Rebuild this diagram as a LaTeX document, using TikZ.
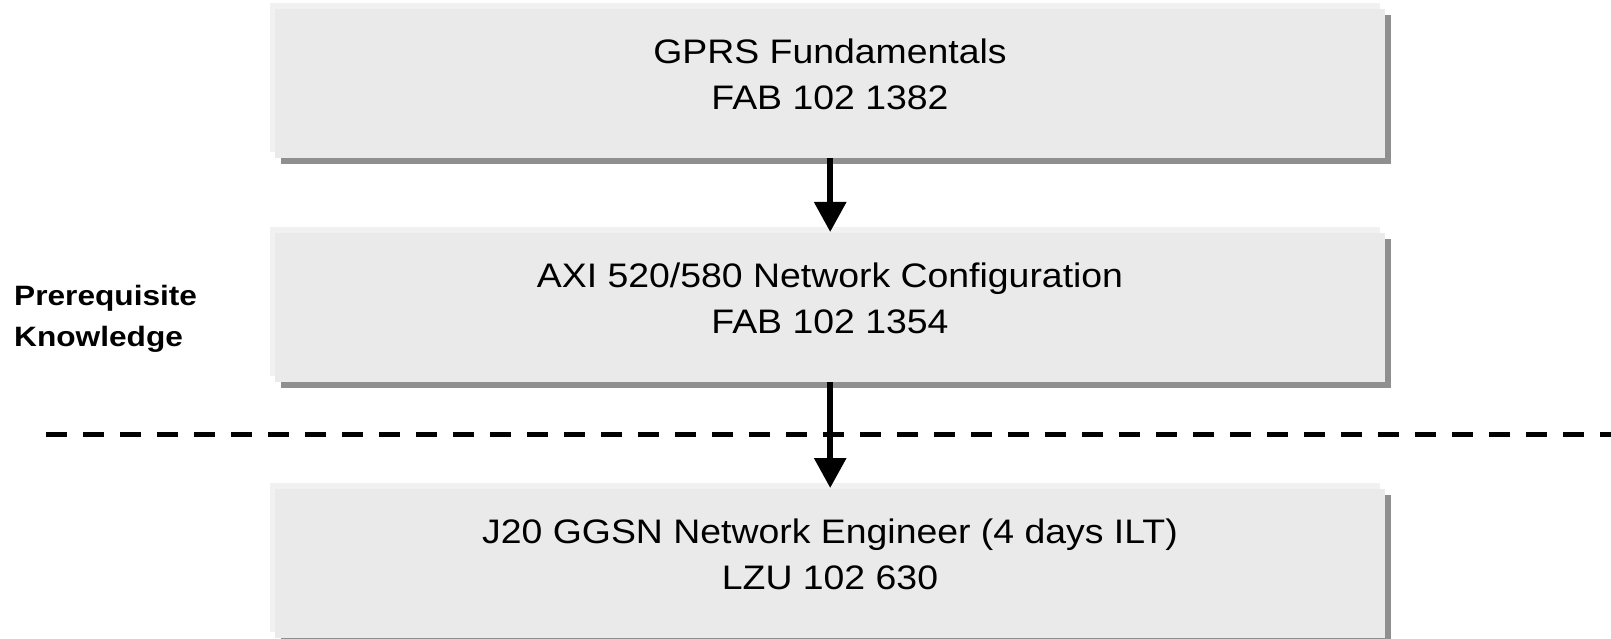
\documentclass[tikz,border=0pt]{standalone}
\usepackage{fontspec}
\usepackage{graphicx}
\setmainfont{Liberation Sans}
\usetikzlibrary{arrows.meta,shadows}
\definecolor{boxfill}{HTML}{EAEAEA}
\definecolor{boxlight}{HTML}{F1F1F1}
\definecolor{boxshadow}{HTML}{8F8F8F}
\newcommand{\widetext}[2]{\scalebox{#1}[1]{#2}}
\tikzset{
  card/.style={rectangle, fill=boxfill, draw=none, inner sep=0pt,
    minimum width=1110pt, minimum height=149pt, anchor=north west,
    general shadow={fill=boxlight, shadow xshift=-5.5pt, shadow yshift=6pt},
    general shadow={fill=boxshadow, shadow xshift=5.5pt, shadow yshift=-5.5pt}},
  cardtext/.style={inner sep=0pt, anchor=base,
    font=\fontsize{34}{40}\selectfont, text=black},
  sidetext/.style={inner sep=0pt, anchor=base west,
    font=\fontsize{28}{34}\selectfont\bfseries, text=black},
  flow/.style={line width=6pt, draw=black, shorten >=1pt,
    -{Triangle[width=31pt,length=30pt]}},
  divider/.style={line width=4.7pt, draw=black, dash pattern=on 21pt off 16pt}
}
\begin{document}
\begin{tikzpicture}[x=1pt,y=-1pt]
\useasboundingbox (0,0) rectangle (1611,639);
% boxes
\node[card] (b1) at (275,9) {};
\node[card] (b2) at (275,233) {};
\node[card] (b3) at (275,489) {};
% texts
\node[cardtext] (t1a) at (830,63.7) {\widetext{1.1}{GPRS Fundamentals}};
\node[cardtext] (t1b) at (830,109.3) {\widetext{1.1}{FAB 102 1382}};
\node[cardtext] (t2a) at (830,287.7) {\widetext{1.1}{AXI 520/580 Network Configuration}};
\node[cardtext] (t2b) at (830,333.3) {\widetext{1.1}{FAB 102 1354}};
\node[cardtext] (t3a) at (830,543.7) {\widetext{1.1}{J20 GGSN Network Engineer (4 days ILT)}};
\node[cardtext] (t3b) at (830,589.3) {\widetext{1.1}{LZU 102 630}};
\node[sidetext] (p1) at (14,305.7) {\widetext{1.13}{Prerequisite}};
\node[sidetext] (p2) at (14,346) {\widetext{1.13}{Knowledge}};
% divider
\coordinate (dl) at (46,434.7);
\coordinate (dr) at (1625,434.7);
\draw[divider] (dl) -- (dr);
% arrows
\draw[flow] (b1.south) -- (b2.north);
\draw[flow] (b2.south) -- (b3.north);
\end{tikzpicture}
\end{document}
